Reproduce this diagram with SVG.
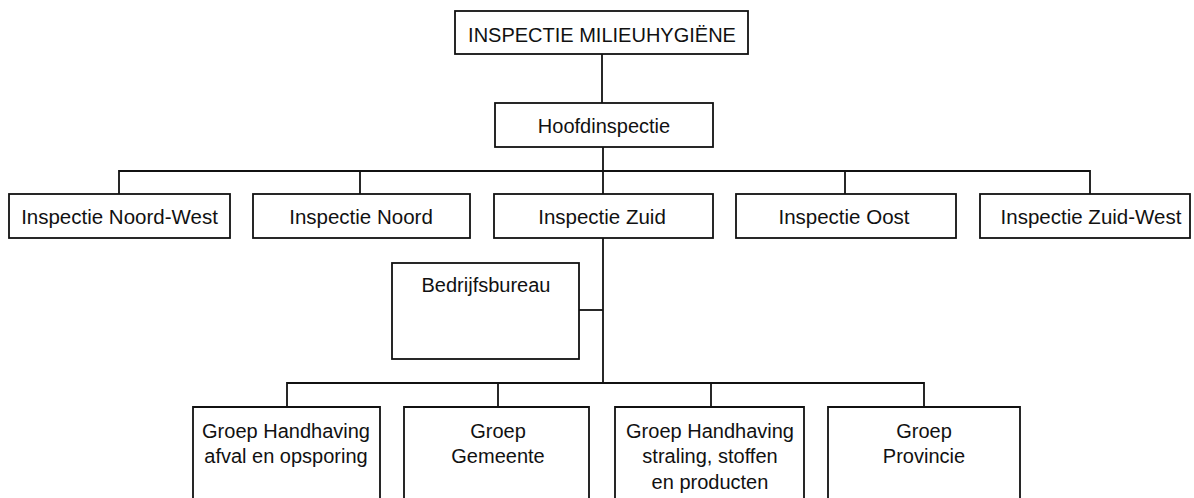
<svg xmlns="http://www.w3.org/2000/svg" width="1194" height="498" viewBox="0 0 1194 498">
<style>
.box{fill:#fff;stroke:#111;stroke-width:1.8}
.ln{fill:none;stroke:#111;stroke-width:1.8}
text{font-family:"Liberation Sans",Arial,sans-serif;font-size:20px;fill:#111;text-anchor:middle}
.r{font-size:20.5px}
</style>
<rect width="1194" height="498" fill="#fff"/>
<g id="connectors">
<path class="ln" d="M602 54V103"/>
<path class="ln" d="M603 147V171"/>
<path class="ln" d="M119 194V171H1090V194"/>
<path class="ln" d="M360 171V194"/>
<path class="ln" d="M603 171V194"/>
<path class="ln" d="M845 171V194"/>
<path class="ln" d="M603 238V383"/>
<path class="ln" d="M579 310H603"/>
<path class="ln" d="M287 407V383H924V407"/>
<path class="ln" d="M498 383V407"/>
<path class="ln" d="M711 383V407"/>
</g>
<g id="n-title"><rect class="box" x="455" y="11" width="293" height="43"/><text x="602" y="42">INSPECTIE MILIEUHYGIËNE</text></g>
<g id="n-hoofd"><rect class="box" x="495" y="103" width="218" height="44"/><text x="604" y="133">Hoofdinspectie</text></g>
<g id="n-nw"><rect class="box" x="9" y="194" width="221" height="44"/><text class="r" x="119.5" y="224">Inspectie Noord-West</text></g>
<g id="n-noord"><rect class="box" x="253" y="194" width="217" height="44"/><text class="r" x="361" y="224">Inspectie Noord</text></g>
<g id="n-zuid"><rect class="box" x="494" y="194" width="219" height="44"/><text class="r" x="602" y="224">Inspectie Zuid</text></g>
<g id="n-oost"><rect class="box" x="736" y="194" width="220" height="44"/><text class="r" x="844" y="224">Inspectie Oost</text></g>
<g id="n-zw"><rect class="box" x="980" y="194" width="210" height="44"/><text class="r" x="1091" y="224">Inspectie Zuid-West</text></g>
<g id="n-bedrijf"><rect class="box" x="392" y="263" width="187" height="96"/><text x="486" y="292">Bedrijfsbureau</text></g>
<g id="n-afval"><path class="box" d="M193 500V407H380V500"/><text x="286" y="438">Groep Handhaving</text><text x="286" y="463">afval en opsporing</text></g>
<g id="n-gemeente"><path class="box" d="M404 500V407H589V500"/><text x="498" y="438">Groep</text><text x="498" y="463">Gemeente</text></g>
<g id="n-straling"><path class="box" d="M615 500V407H804V500"/><text x="710" y="438">Groep Handhaving</text><text x="710" y="463">straling, stoffen</text><text x="710" y="489">en producten</text></g>
<g id="n-provincie"><path class="box" d="M828 500V407H1020V500"/><text x="924" y="438">Groep</text><text x="924" y="463">Provincie</text></g>
</svg>
